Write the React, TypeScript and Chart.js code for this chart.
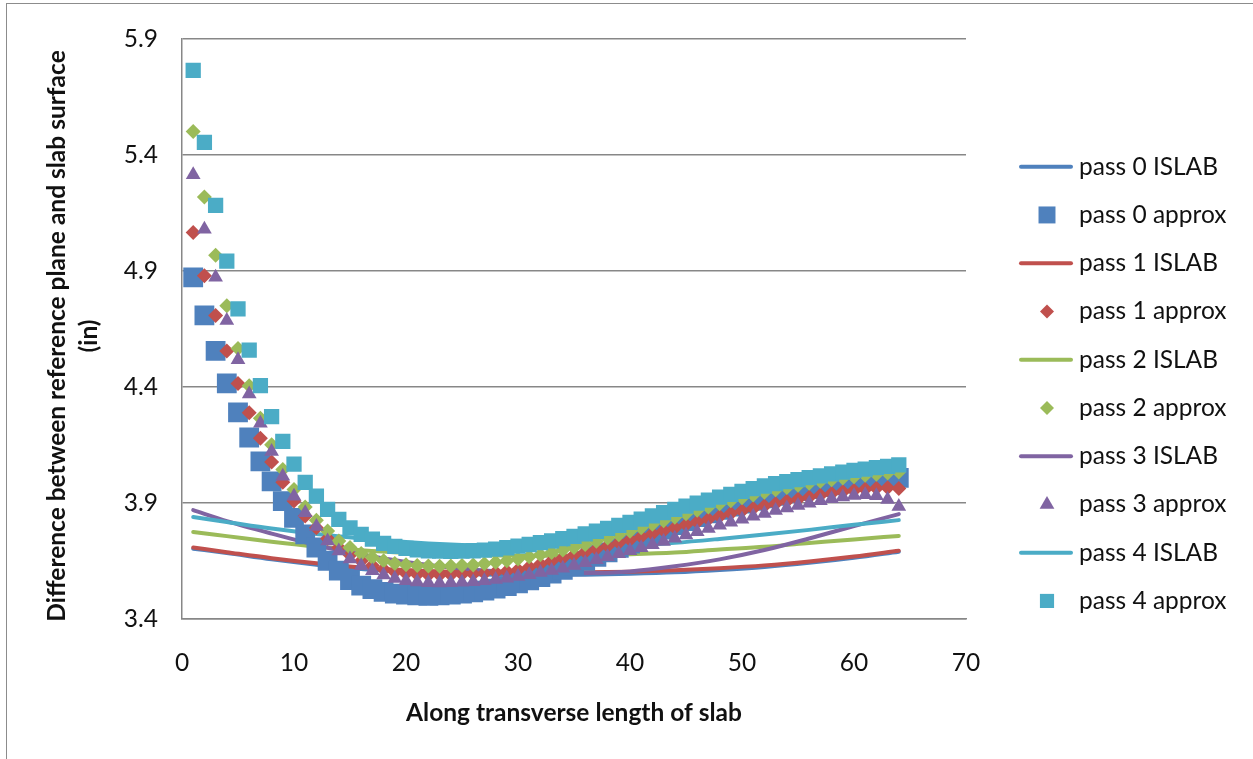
import React, { useEffect, useRef } from 'react';
import { Chart, registerables } from 'chart.js';

Chart.register(...registerables);

// Stations along the slab where the approximation was evaluated
const POSITIONS = [
  1, 2, 3, 4, 5, 6, 7, 8, 9, 10, 11, 12, 13, 14, 15, 16, 17, 18, 19, 20, 21, 22,
  23, 24, 25, 26, 27, 28, 29, 30, 31, 32, 33, 34, 35, 36, 37, 38, 39, 40, 41, 42,
  43, 44, 45, 46, 47, 48, 49, 50, 51, 52, 53, 54, 55, 56, 57, 58, 59, 60, 61, 62,
  63, 64,
];

const PASS0_APPROX = [
  4.872, 4.708, 4.555, 4.415, 4.29, 4.182, 4.079, 3.993, 3.908, 3.836, 3.765, 3.708,
  3.651, 3.608, 3.568, 3.544, 3.529, 3.517, 3.509, 3.505, 3.502, 3.5, 3.502, 3.505,
  3.509, 3.515, 3.522, 3.531, 3.542, 3.554, 3.567, 3.581, 3.596, 3.612, 3.629, 3.65,
  3.668, 3.687, 3.706, 3.725, 3.745, 3.765, 3.785, 3.804, 3.822, 3.839, 3.855, 3.87,
  3.884, 3.897, 3.909, 3.92, 3.931, 3.941, 3.951, 3.96, 3.968, 3.976, 3.983, 3.99,
  3.996, 4.001, 4.005, 4.008,
];

const PASS1_APPROX = [
  5.065, 4.879, 4.708, 4.555, 4.415, 4.289, 4.179, 4.076, 3.989, 3.908, 3.844, 3.793,
  3.747, 3.708, 3.676, 3.65, 3.63, 3.614, 3.603, 3.596, 3.592, 3.59, 3.59, 3.591,
  3.593, 3.594, 3.597, 3.601, 3.606, 3.612, 3.624, 3.637, 3.65, 3.663, 3.676, 3.689,
  3.702, 3.715, 3.728, 3.741, 3.754, 3.767, 3.78, 3.793, 3.806, 3.818, 3.83, 3.842,
  3.854, 3.865, 3.876, 3.887, 3.897, 3.907, 3.916, 3.925, 3.933, 3.941, 3.948, 3.954,
  3.959, 3.963, 3.965, 3.962,
];

const PASS2_APPROX = [
  5.5, 5.218, 4.967, 4.75, 4.565, 4.405, 4.265, 4.151, 4.044, 3.958, 3.882, 3.825,
  3.779, 3.736, 3.708, 3.682, 3.665, 3.651, 3.639, 3.634, 3.63, 3.628, 3.627, 3.628,
  3.63, 3.633, 3.638, 3.644, 3.651, 3.659, 3.668, 3.677, 3.687, 3.697, 3.708, 3.721,
  3.735, 3.749, 3.763, 3.778, 3.793, 3.808, 3.823, 3.838, 3.853, 3.868, 3.882, 3.896,
  3.909, 3.922, 3.934, 3.946, 3.957, 3.967, 3.976, 3.985, 3.993, 4.0, 4.007, 4.013,
  4.019, 4.024, 4.029, 4.033,
];

const PASS3_APPROX = [
  5.314, 5.079, 4.872, 4.686, 4.517, 4.369, 4.243, 4.122, 4.015, 3.929, 3.858, 3.798,
  3.736, 3.693, 3.658, 3.629, 3.608, 3.59, 3.575, 3.565, 3.559, 3.556, 3.555, 3.556,
  3.558, 3.561, 3.565, 3.57, 3.576, 3.583, 3.591, 3.6, 3.609, 3.619, 3.63, 3.642,
  3.655, 3.668, 3.681, 3.694, 3.707, 3.72, 3.734, 3.748, 3.762, 3.776, 3.79, 3.804,
  3.817, 3.83, 3.843, 3.855, 3.867, 3.878, 3.889, 3.899, 3.909, 3.918, 3.926, 3.932,
  3.935, 3.931, 3.915, 3.885,
];

const PASS4_APPROX = [
  5.764, 5.453, 5.182, 4.942, 4.736, 4.558, 4.405, 4.272, 4.165, 4.067, 3.989, 3.929,
  3.872, 3.829, 3.793, 3.765, 3.744, 3.726, 3.713, 3.704, 3.698, 3.694, 3.692, 3.691,
  3.692, 3.694, 3.697, 3.701, 3.707, 3.714, 3.721, 3.729, 3.737, 3.746, 3.756, 3.767,
  3.778, 3.79, 3.803, 3.816, 3.83, 3.844, 3.858, 3.872, 3.886, 3.899, 3.912, 3.925,
  3.937, 3.95, 3.962, 3.973, 3.983, 3.992, 4.0, 4.009, 4.017, 4.025, 4.033, 4.04,
  4.046, 4.052, 4.058, 4.064,
];

// Stations of the ISLAB solution curves
const LINE_POSITIONS = [1, 4, 8, 12, 16, 20, 24, 28, 32, 36, 40, 44, 48, 52, 56, 60, 64];

const PASS0_ISLAB = [
  3.703, 3.684, 3.657, 3.634, 3.615, 3.603, 3.595, 3.591, 3.59, 3.591, 3.595, 3.601,
  3.611, 3.624, 3.642, 3.664, 3.69,
];
const PASS1_ISLAB = [
  3.708, 3.688, 3.662, 3.64, 3.622, 3.611, 3.604, 3.601, 3.6, 3.601, 3.604, 3.61,
  3.619, 3.631, 3.648, 3.669, 3.694,
];
const PASS2_ISLAB = [
  3.775, 3.757, 3.733, 3.712, 3.696, 3.685, 3.678, 3.674, 3.673, 3.675, 3.679, 3.686,
  3.699, 3.711, 3.727, 3.743, 3.758,
];
const PASS3_ISLAB = [
  3.869, 3.822, 3.768, 3.718, 3.678, 3.646, 3.622, 3.606, 3.598, 3.598, 3.605, 3.627,
  3.657, 3.697, 3.747, 3.8, 3.852,
];
const PASS4_ISLAB = [
  3.839, 3.818, 3.79, 3.766, 3.747, 3.732, 3.721, 3.714, 3.711, 3.712, 3.716, 3.728,
  3.745, 3.764, 3.784, 3.806, 3.826,
];

const X_TICKS = [0, 10, 20, 30, 40, 50, 60, 70];
const Y_TICKS = [3.4, 3.9, 4.4, 4.9, 5.4, 5.9];

const COLORS = ['#4F81BD', '#C0504D', '#9BBB59', '#8064A2', '#4BACC6'];
const ISLAB_SERIES = [PASS0_ISLAB, PASS1_ISLAB, PASS2_ISLAB, PASS3_ISLAB, PASS4_ISLAB];
const APPROX_SERIES = [PASS0_APPROX, PASS1_APPROX, PASS2_APPROX, PASS3_APPROX, PASS4_APPROX];
const MARKERS = ['rect', 'rectRot', 'rectRot', 'triangle', 'rect'];
const MARKER_RADIUS = [14, 7.5, 7.5, 8.5, 10.8];
const LEGEND_MARKER_RADIUS = [12, 7, 7, 8.5, 10];

const FONT = 'Lato, "Open Sans", sans-serif';
const FONT_SIZE = 24.5;
const TEXT_COLOR = '#111111';
const GRID_COLOR = '#878787';

function drawMarker(ctx: CanvasRenderingContext2D, style: string, x: number, y: number, r: number, color: string) {
  ctx.save();
  ctx.fillStyle = color;
  ctx.beginPath();
  if (style === 'rect') {
    const h = r * Math.SQRT1_2;
    ctx.rect(x - h, y - h, 2 * h, 2 * h);
  } else if (style === 'rectRot') {
    ctx.moveTo(x, y - r);
    ctx.lineTo(x + r, y);
    ctx.lineTo(x, y + r);
    ctx.lineTo(x - r, y);
    ctx.closePath();
  } else {
    const h = r * 1.5;
    const w = r * Math.sqrt(3);
    ctx.moveTo(x, y - r);
    ctx.lineTo(x + w / 2, y - r + h);
    ctx.lineTo(x - w / 2, y - r + h);
    ctx.closePath();
  }
  ctx.fill();
  ctx.restore();
}

const legendAndTitlePlugin = {
  id: 'legendAndTitle',
  afterDraw(chart: Chart) {
    const ctx = chart.ctx;
    ctx.save();
    // legend on the right
    const firstY = 166.7;
    const step = 48.25;
    ctx.font = `${FONT_SIZE}px ${FONT}`;
    ctx.textBaseline = 'middle';
    ctx.textAlign = 'left';
    for (let k = 0; k < 5; k++) {
      const color = COLORS[k];
      const yLine = firstY + step * (2 * k);
      const yMark = firstY + step * (2 * k + 1);
      ctx.strokeStyle = color;
      ctx.lineWidth = 4;
      ctx.lineCap = 'round';
      ctx.beginPath();
      ctx.moveTo(1021, yLine);
      ctx.lineTo(1071, yLine);
      ctx.stroke();
      drawMarker(ctx, MARKERS[k], 1047, yMark, LEGEND_MARKER_RADIUS[k], color);
      ctx.fillStyle = TEXT_COLOR;
      ctx.fillText(`pass ${k} ISLAB`, 1079, yLine);
      ctx.fillText(`pass ${k} approx`, 1079, yMark);
    }
    // vertical axis title, two lines
    ctx.fillStyle = TEXT_COLOR;
    ctx.font = `bold ${FONT_SIZE}px ${FONT}`;
    ctx.textAlign = 'center';
    ctx.translate(57, 336);
    ctx.rotate(-Math.PI / 2);
    ctx.fillText('Difference between reference plane and slab surface', 0, 0);
    ctx.fillText('(in)', 0, 32);
    ctx.restore();
  },
};

export default function App() {
  const canvasRef = useRef<HTMLCanvasElement | null>(null);

  useEffect(() => {
    const canvas = canvasRef.current;
    if (!canvas) return;

    const lineSets = ISLAB_SERIES.map((vals, k) => ({
      label: `pass ${k} ISLAB`,
      data: LINE_POSITIONS.map((x, i) => ({ x, y: vals[i] })),
      borderColor: COLORS[k],
      backgroundColor: COLORS[k],
      borderWidth: 4,
      borderCapStyle: 'round' as const,
      pointRadius: 0,
      cubicInterpolationMode: 'monotone' as const,
      showLine: true,
      order: 20 - k,
    }));
    const markerSets = APPROX_SERIES.map((vals, k) => ({
      label: `pass ${k} approx`,
      data: POSITIONS.map((x, i) => ({ x, y: vals[i] })),
      borderColor: COLORS[k],
      backgroundColor: COLORS[k],
      pointStyle: MARKERS[k],
      pointRadius: MARKER_RADIUS[k],
      pointBorderWidth: 0,
      showLine: false,
      order: 10 - k,
    }));

    const chart = new Chart(canvas, {
      type: 'line',
      data: { datasets: [...lineSets, ...markerSets] as any },
      options: {
        animation: false,
        responsive: false,
        layout: { padding: { left: 0, top: 33, right: 287, bottom: 0 } },
        plugins: {
          legend: { display: false },
          tooltip: { enabled: false },
        },
        scales: {
          x: {
            type: 'linear',
            min: 0,
            max: 70,
            afterFit: (scale: any) => {
              scale.height = 140;
            },
            afterBuildTicks: (scale: any) => {
              scale.ticks = X_TICKS.map((v) => ({ value: v }));
            },
            grid: { display: false, drawTicks: false },
            border: { display: true, color: GRID_COLOR, width: 1.5 },
            ticks: {
              padding: 29,
              color: TEXT_COLOR,
              font: { family: FONT, size: FONT_SIZE },
              maxRotation: 0,
            },
            title: {
              display: true,
              text: 'Along transverse length of slab',
              color: TEXT_COLOR,
              font: { family: FONT, size: FONT_SIZE, weight: 'bold' },
              padding: { top: 0, bottom: 31 },
            },
          },
          y: {
            type: 'linear',
            min: 3.4,
            max: 5.9,
            afterFit: (scale: any) => {
              scale.width = 182;
            },
            afterBuildTicks: (scale: any) => {
              scale.ticks = Y_TICKS.map((v) => ({ value: v }));
            },
            grid: { color: GRID_COLOR, lineWidth: 1.5, drawTicks: false },
            border: { display: true, color: GRID_COLOR, width: 1.5 },
            ticks: {
              padding: 24,
              color: TEXT_COLOR,
              font: { family: FONT, size: FONT_SIZE },
              callback: (v: any) => Number(v).toFixed(1),
            },
          },
        },
      },
      plugins: [legendAndTitlePlugin],
    });

    return () => chart.destroy();
  }, []);

  return (
    <div
      style={{
        position: 'fixed',
        left: 0,
        top: 0,
        width: 1253,
        height: 759,
        background: '#ffffff',
        overflow: 'hidden',
      }}
    >
      <div
        style={{
          position: 'absolute',
          left: 6,
          top: 3,
          width: 1260,
          height: 770,
          borderLeft: '1.5px solid #8c8c8c',
          borderTop: '1.5px solid #8c8c8c',
        }}
      />
      <canvas ref={canvasRef} width={1253} height={759} style={{ position: 'absolute', left: 0, top: 0 }} />
    </div>
  );
}
